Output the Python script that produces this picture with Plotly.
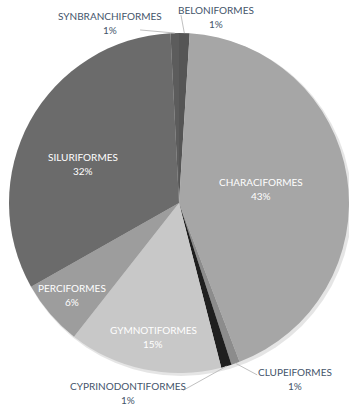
import math
import plotly.graph_objects as go

# Fish orders and their share of recorded species (%)
orders = [
    "BELONIFORMES",
    "CHARACIFORMES",
    "CLUPEIFORMES",
    "CYPRINODONTIFORMES",
    "GYMNOTIFORMES",
    "PERCIFORMES",
    "SILURIFORMES",
    "SYNBRANCHIFORMES",
]
shares = [1.0, 43.2, 0.8, 1.0, 14.6, 6.2, 32.4, 0.8]

# ---- styling -------------------------------------------------------------
W, H = 349, 406
CX, CY, R = 179, 203, 170          # pie centre and radius in pixels
FONT = "Lato"
slice_colors = ["#555555", "#a6a6a6", "#8c8c8c", "#1f1f1f",
                "#c8c8c8", "#9d9d9d", "#6b6b6b", "#5c5c5c"]
inside_color = "#ffffff"
outside_color = "#44546a"
leader_color = "#c0c0c0"

# label placement: (angle nudge in degrees, radius fraction, inside?)
label_place = {
    "BELONIFORMES": (9.45, 1.115, False),
    "CHARACIFORMES": (-1.1, 0.49, True),
    "CLUPEIFORMES": (-14.0, 1.24, False),
    "CYPRINODONTIFORMES": (31.2, 1.16, False),
    "GYMNOTIFORMES": (-0.9, 0.80, True),
    "PERCIFORMES": (-0.1, 0.83, True),
    "SILURIFORMES": (-6.8, 0.61, True),
    "SYNBRANCHIFORMES": (-19.5, 1.134, False),
}
# where the leader line meets an outside label, relative to the label centre
leader_end = {
    "BELONIFORMES": (-35, -2),
    "CLUPEIFORMES": (-38, -4),
    "CYPRINODONTIFORMES": (55, -3),
    "SYNBRANCHIFORMES": (30, 7),
}
LINE_GAP = 14  # px between name line and percent line


def to_paper(px, py):
    return px / W, 1 - py / H


def polar(angle_deg, radius):
    a = math.radians(angle_deg)
    return CX + radius * math.sin(a), CY - radius * math.cos(a)


total = sum(shares)
mids = []
acc = 0.0
for v in shares:
    mids.append((acc + v / 2) / total * 360.0)
    acc += v

fig = go.Figure(
    go.Pie(
        labels=orders,
        values=shares,
        sort=False,
        direction="clockwise",
        rotation=0,
        marker=dict(colors=slice_colors, line=dict(width=0)),
        textinfo="none",
        hoverinfo="label+percent",
        domain=dict(x=[(CX - R) / W, min(1.0, (CX + R) / W)],
                    y=[1 - (CY + R) / H, 1 - (CY - R) / H]),
        showlegend=False,
    )
)

annotations = []
shapes = [
    # soft shadow under the pie
    dict(type="circle", xref="paper", yref="paper", layer="below",
         x0=(CX - R + 1) / W, x1=(CX + R + 3) / W,
         y0=1 - (CY + R + 3) / H, y1=1 - (CY - R + 1) / H,
         fillcolor="rgba(0,0,0,0.10)", line=dict(width=0)),
]

for name, v, mid in zip(orders, shares, mids):
    nudge, frac, inside = label_place[name]
    lx, ly = polar(mid + nudge, frac * R)
    pct = f"{round(v / total * 100)}%"
    color = inside_color if inside else outside_color
    for txt, dy in ((name, -LINE_GAP / 2), (pct, LINE_GAP / 2)):
        x, y = to_paper(lx, ly + dy)
        annotations.append(dict(
            x=x, y=y, xref="paper", yref="paper", text=txt, showarrow=False,
            xanchor="center", yanchor="middle",
            font=dict(family=FONT, size=10, color=color),
        ))
    if not inside:
        ex, ey = polar(mid, R)
        ox, oy = leader_end[name]
        x0, y0 = to_paper(ex, ey)
        x1, y1 = to_paper(lx + ox, ly + oy)
        shapes.append(dict(type="line", xref="paper", yref="paper",
                           x0=x0, y0=y0, x1=x1, y1=y1,
                           line=dict(color=leader_color, width=1)))

fig.update_layout(
    width=W, height=H,
    margin=dict(l=0, r=0, t=0, b=0),
    paper_bgcolor="white",
    plot_bgcolor="white",
    annotations=annotations,
    shapes=shapes,
)

fig.write_html("out.html")
